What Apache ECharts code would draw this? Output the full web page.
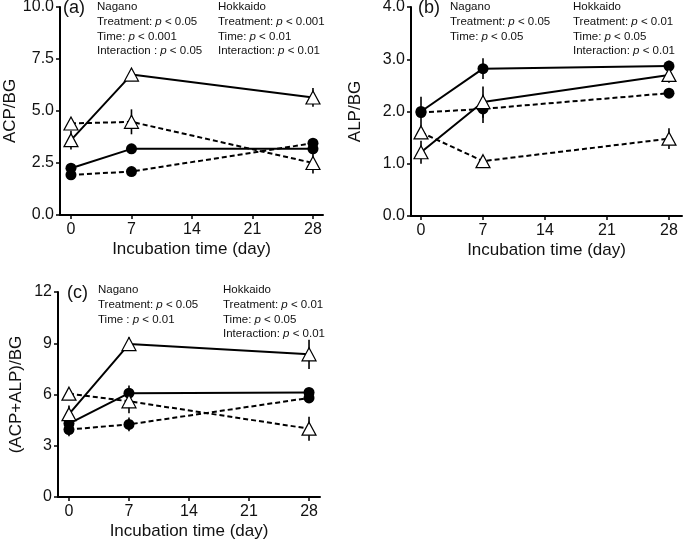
<!DOCTYPE html>
<html>
<head>
<meta charset="utf-8">
<script src="https://cdn.jsdelivr.net/npm/echarts@6/dist/echarts.min.js"></script>
<style>
  html, body { margin: 0; padding: 0; background: #fff; }
  #main { width: 685px; height: 539px; }
</style>
</head>
<body>
<div id="main"></div>
<script>
// incubation days and tick positions
const days = [0, 7, 28];
const xTicks = [0, 7, 14, 21, 28];

// (a) ACP/BG
const acpSolidCircle = [2.25, 3.18, 3.18];
const acpSolidCircleErr = [0.1, 0.2, 0.15];
const acpDashCircle = [1.93, 2.09, 3.45];
const acpDashCircleErr = [0.1, 0.1, 0.1];
const acpSolidTri = [3.6, 6.75, 5.65];
const acpSolidTriErr = [0.45, 0.15, 0.45];
const acpDashTri = [4.4, 4.48, 2.5];
const acpDashTriErr = [0.1, 0.6, 0.5];

// (b) ALP/BG
const alpSolidCircle = [2.0, 2.82, 2.87];
const alpSolidCircleErr = [0.28, 0.2, 0.1];
const alpDashCircle = [1.98, 2.05, 2.35];
const alpDashCircleErr = [0.05, 0.27, 0.05];
const alpSolidTri = [1.22, 2.18, 2.7];
const alpSolidTriErr = [0.22, 0.3, 0.15];
const alpDashTri = [1.6, 1.05, 1.48];
const alpDashTriErr = [0.05, 0.1, 0.2];

// (c) (ACP+ALP)/BG
const sumSolidCircle = [4.3, 6.08, 6.12];
const sumSolidCircleErr = [0.3, 0.45, 0.15];
const sumDashCircle = [3.95, 4.25, 5.8];
const sumDashCircleErr = [0.4, 0.4, 0.15];
const sumSolidTri = [4.85, 8.95, 8.35];
const sumSolidTriErr = [0.5, 0.4, 0.85];
const sumDashTri = [6.05, 5.6, 4.0];
const sumDashTriErr = [0.1, 0.7, 0.7];

// statistics notes
const notesA = [
  ['Nagano', 'Treatment: {i|p} < 0.05', 'Time: {i|p} < 0.001', 'Interaction : {i|p} < 0.05'],
  ['Hokkaido', 'Treatment: {i|p} < 0.001', 'Time: {i|p} < 0.01', 'Interaction: {i|p} < 0.01']
];
const notesB = [
  ['Nagano', 'Treatment: {i|p} < 0.05', 'Time: {i|p} < 0.05'],
  ['Hokkaido', 'Treatment: {i|p} < 0.01', 'Time: {i|p} < 0.05', 'Interaction: {i|p} < 0.01']
];
const notesC = [
  ['Nagano', 'Treatment: {i|p} < 0.05', 'Time : {i|p} < 0.01'],
  ['Hokkaido', 'Treatment: {i|p} < 0.01', 'Time: {i|p} < 0.05', 'Interaction: {i|p} < 0.01']
];

const FONT = '"Liberation Sans", Arial, sans-serif';
const chart = echarts.init(document.getElementById('main'), null, { renderer: 'canvas' });

function pairs(vals) {
  return days.map((d, i) => [d, vals[i]]);
}

function errData(groups) {
  const out = [];
  groups.forEach(g => {
    days.forEach((d, i) => out.push([d, g[0][i], g[1][i]]));
  });
  return out;
}

// plain vertical error bar, no caps
function renderErr(params, api) {
  const x = api.value(0), y = api.value(1), e = api.value(2);
  const lo = api.coord([x, y - e]);
  const hi = api.coord([x, y + e]);
  return {
    type: 'line',
    shape: { x1: lo[0], y1: lo[1], x2: hi[0], y2: hi[1] },
    style: { stroke: '#000', lineWidth: 1.6 }
  };
}

function lineSeries(idx, vals, tri, dashed) {
  return {
    type: 'line',
    xAxisIndex: idx,
    yAxisIndex: idx,
    data: pairs(vals),
    symbol: tri ? 'triangle' : 'circle',
    symbolSize: tri ? [14, 13] : 11,
    z: tri ? 4 : 3,
    itemStyle: tri
      ? { color: '#fff', borderColor: '#000', borderWidth: 1.2 }
      : { color: '#000', borderColor: '#000', borderWidth: 0 },
    lineStyle: { color: '#000', width: 2, type: dashed ? [5, 3] : 'solid' },
    emphasis: { disabled: true }
  };
}

function xAxisCfg(idx, min, max) {
  return {
    type: 'value',
    gridIndex: idx,
    min: min,
    max: max,
    name: 'Incubation time (day)',
    nameLocation: 'middle',
    nameGap: 26,
    nameTextStyle: { fontFamily: FONT, fontSize: 17, color: '#111' },
    axisLine: { show: true, onZero: false, lineStyle: { color: '#000', width: 2 } },
    axisTick: { show: true, length: 4, customValues: xTicks, lineStyle: { color: '#000', width: 1.5 } },
    axisLabel: { customValues: xTicks, fontFamily: FONT, fontSize: 16, color: '#111', margin: 7 },
    splitLine: { show: false }
  };
}

function yAxisCfg(idx, max, interval, digits, name, gap) {
  return {
    type: 'value',
    gridIndex: idx,
    min: 0,
    max: max,
    interval: interval,
    name: name,
    nameLocation: 'middle',
    nameGap: gap,
    nameTextStyle: { fontFamily: FONT, fontSize: 17, color: '#111' },
    axisLine: { show: true, onZero: false, lineStyle: { color: '#000', width: 2 } },
    axisTick: { show: true, length: 4, lineStyle: { color: '#000', width: 1.5 } },
    axisLabel: {
      fontFamily: FONT, fontSize: 16, color: '#111', margin: 6,
      formatter: v => v.toFixed(digits)
    },
    splitLine: { show: false }
  };
}

function noteTitle(lines, left, top) {
  return {
    text: lines.join('\n'),
    left: left,
    top: top,
    padding: 0,
    textStyle: {
      fontFamily: FONT, fontSize: 11.5, fontWeight: 'normal', color: '#111', lineHeight: 14.6,
      rich: { i: { fontFamily: FONT, fontSize: 11.5, fontStyle: 'italic', color: '#111', lineHeight: 14.6 } }
    }
  };
}

function panelTitle(txt, left, top) {
  return {
    text: txt, left: left, top: top, padding: 0,
    textStyle: { fontFamily: FONT, fontSize: 18, fontWeight: 'normal', color: '#111' }
  };
}

const option = {
  animation: false,
  backgroundColor: '#fff',
  title: [
    panelTitle('(a)', 63, -1),
    noteTitle(notesA[0], 97, 0),
    noteTitle(notesA[1], 218, 0),
    panelTitle('(b)', 418, -1),
    noteTitle(notesB[0], 450, 0),
    noteTitle(notesB[1], 573, 0),
    panelTitle('(c)', 67, 284),
    noteTitle(notesC[0], 98, 283),
    noteTitle(notesC[1], 223, 283)
  ],
  grid: [
    { left: 60, right: 362, top: 7, bottom: 324, containLabel: false, outerBoundsMode: 'none' },
    { left: 411, right: 3, top: 7, bottom: 323, containLabel: false, outerBoundsMode: 'none' },
    { left: 58, right: 365, top: 292, bottom: 42, containLabel: false, outerBoundsMode: 'none' }
  ],
  xAxis: [
    xAxisCfg(0, -1.27, 29.16),
    xAxisCfg(1, -1.13, 29.47),
    xAxisCfg(2, -1.28, 29.28)
  ],
  yAxis: [
    yAxisCfg(0, 10, 2.5, 1, 'ACP/BG', 38),
    yAxisCfg(1, 4, 1, 1, 'ALP/BG', 47),
    yAxisCfg(2, 12, 3, 0, '(ACP+ALP)/BG', 33)
  ],
  series: [
    {
      type: 'custom', xAxisIndex: 0, yAxisIndex: 0, z: 1, renderItem: renderErr,
      data: errData([[acpSolidCircle, acpSolidCircleErr], [acpDashCircle, acpDashCircleErr],
        [acpSolidTri, acpSolidTriErr], [acpDashTri, acpDashTriErr]])
    },
    lineSeries(0, acpSolidCircle, false, false),
    lineSeries(0, acpDashCircle, false, true),
    lineSeries(0, acpSolidTri, true, false),
    lineSeries(0, acpDashTri, true, true),
    {
      type: 'custom', xAxisIndex: 1, yAxisIndex: 1, z: 1, renderItem: renderErr,
      data: errData([[alpSolidCircle, alpSolidCircleErr], [alpDashCircle, alpDashCircleErr],
        [alpSolidTri, alpSolidTriErr], [alpDashTri, alpDashTriErr]])
    },
    lineSeries(1, alpSolidCircle, false, false),
    lineSeries(1, alpDashCircle, false, true),
    lineSeries(1, alpSolidTri, true, false),
    lineSeries(1, alpDashTri, true, true),
    {
      type: 'custom', xAxisIndex: 2, yAxisIndex: 2, z: 1, renderItem: renderErr,
      data: errData([[sumSolidCircle, sumSolidCircleErr], [sumDashCircle, sumDashCircleErr],
        [sumSolidTri, sumSolidTriErr], [sumDashTri, sumDashTriErr]])
    },
    lineSeries(2, sumSolidCircle, false, false),
    lineSeries(2, sumDashCircle, false, true),
    lineSeries(2, sumSolidTri, true, false),
    lineSeries(2, sumDashTri, true, true)
  ]
};

chart.setOption(option);
</script>
</body>
</html>
